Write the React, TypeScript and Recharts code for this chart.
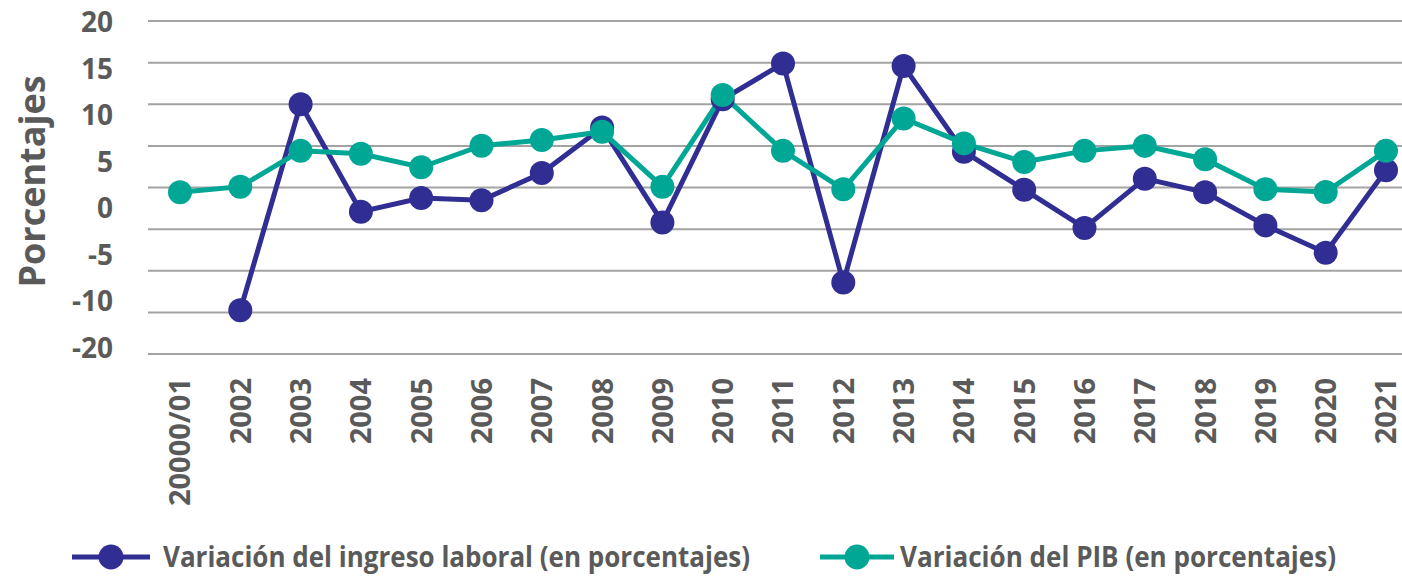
import React from 'react';
import { LineChart, Line, XAxis, YAxis, CartesianGrid, Legend, Label } from 'recharts';

const categories = ['20000/01', '2002', '2003', '2004', '2005', '2006', '2007', '2008', '2009', '2010', '2011', '2012', '2013', '2014', '2015', '2016', '2017', '2018', '2019', '2020', '2021'];
const laborIncome: (number | null)[] = [null, -14.75, 10.0, -2.9, -1.26, -1.54, 1.74, 7.2, -4.2, 10.6, 14.9, -11.4, 14.6, 4.3, -0.26, -4.86, 1.06, -0.58, -4.55, -7.83, 2.06];
const gdp: number[] = [-0.58, 0.1, 4.4, 4.06, 2.43, 5.02, 5.7, 6.7, 0.1, 11.1, 4.4, -0.2, 8.3, 5.3, 3.06, 4.4, 5.0, 3.4, -0.2, -0.54, 4.4];
const gridValues = [-20, -15, -10, -5, 0, 5, 10, 15, 20];
const yTickLabels = ['20', '15', '10', '5', '0', '-5', '-10', '-20'];
const yTickIndex = [0, 1, 2, 3, 4, 5, 6, 7];
const seriesNames = ['Variación del ingreso laboral (en porcentajes)', 'Variación del PIB (en porcentajes)'];
const yTitle = 'Porcentajes';

const LABOR_COLOR = '#302e93';
const GDP_COLOR = '#00a795';
const TEXT_COLOR = '#5a5a5a';
const FONT = "'Open Sans', 'Noto Sans', sans-serif";

const data = categories.map((c, i) => ({ year: c, labor: laborIncome[i], gdp: gdp[i] }));

const XTick = (props: any) => {
  const { x, y, payload } = props;
  return (
    <g transform={`translate(${x},${y})`}>
      <text
        transform="rotate(-90)"
        textAnchor="end"
        dy="0.36em"
        fill={TEXT_COLOR}
        fontSize={29}
        fontWeight={700}
        fontFamily={FONT}
      >
        {payload.value}
      </text>
    </g>
  );
};

const YTick = (props: any) => {
  const { x, y, payload } = props;
  return (
    <text
      x={x}
      y={y}
      textAnchor="end"
      dy="0.36em"
      fill={TEXT_COLOR}
      fontSize={28}
      fontWeight={700}
      fontFamily={FONT}
    >
      {yTickLabels[payload.value]}
    </text>
  );
};

const TitleLabel = (props: any) => {
  const { viewBox } = props;
  const cx = viewBox.x + 32;
  const cy = viewBox.y + viewBox.height / 2 - 6;
  return (
    <text
      x={cx}
      y={cy}
      transform={`rotate(-90, ${cx}, ${cy})`}
      textAnchor="middle"
      dy="0.36em"
      fill={TEXT_COLOR}
      fontSize={36}
      fontWeight={700}
      fontFamily={FONT}
    >
      {yTitle}
    </text>
  );
};

const renderLegend = () => {
  const items = [
    { name: seriesNames[0], color: LABOR_COLOR, lineX: 72, lineW: 78, textX: 163, textLen: 587 },
    { name: seriesNames[1], color: GDP_COLOR, lineX: 820, lineW: 74, textX: 900, textLen: 436 },
  ];
  return (
    <svg width={1402} height={40} style={{ display: 'block' }}>
      {items.map((it) => (
        <g key={it.name}>
          <line x1={it.lineX} x2={it.lineX + it.lineW} y1={20} y2={20} stroke={it.color} strokeWidth={5} />
          <circle cx={it.lineX + it.lineW / 2} cy={20} r={12.5} fill={it.color} />
          <text
            x={it.textX}
            y={20}
            dy="0.36em"
            fill={TEXT_COLOR}
            fontSize={28}
            fontWeight={700}
            fontFamily={FONT}
            textLength={it.textLen}
            lengthAdjust="spacingAndGlyphs"
          >
            {it.name}
          </text>
        </g>
      ))}
    </svg>
  );
};

export default function App() {
  return (
    <div style={{ position: 'absolute', left: 0, top: 0, width: 1402, height: 577, background: '#fff' }}>
      <LineChart width={1402} height={577} data={data} margin={{ top: 21, right: 0, left: 0, bottom: 0 }}>
        <CartesianGrid vertical={false} yAxisId="val" stroke="#a3a3a3" strokeWidth={2} />
        <XAxis
          dataKey="year"
          interval={0}
          padding={{ left: 32, right: 16 }}
          height={183}
          tickSize={0}
          tickMargin={24}
          axisLine={false}
          tickLine={false}
          tick={<XTick />}
        />
        <YAxis yAxisId="val" hide type="number" domain={[-20, 20]} ticks={gridValues} allowDataOverflow />
        <YAxis
          yAxisId="lbl"
          type="number"
          width={148}
          domain={[-0.03, 7.14]}
          allowDataOverflow
          ticks={yTickIndex}
          reversed
          interval={0}
          axisLine={false}
          tickLine={false}
          tickSize={0}
          tickMargin={35}
          tick={<YTick />}
        >
          <Label content={<TitleLabel />} />
        </YAxis>
        <Line
          yAxisId="val"
          dataKey="labor"
          name={seriesNames[0]}
          stroke={LABOR_COLOR}
          strokeWidth={5}
          dot={{ r: 12, fill: LABOR_COLOR, stroke: 'none' }}
          activeDot={false}
          isAnimationActive={false}
        />
        <Line
          yAxisId="val"
          dataKey="gdp"
          name={seriesNames[1]}
          stroke={GDP_COLOR}
          strokeWidth={5}
          dot={{ r: 12, fill: GDP_COLOR, stroke: 'none' }}
          activeDot={false}
          isAnimationActive={false}
        />
        <Legend
          verticalAlign="bottom"
          height={40}
          content={renderLegend}
          wrapperStyle={{ left: 0, bottom: 0, width: 1402 }}
        />
      </LineChart>
    </div>
  );
}
